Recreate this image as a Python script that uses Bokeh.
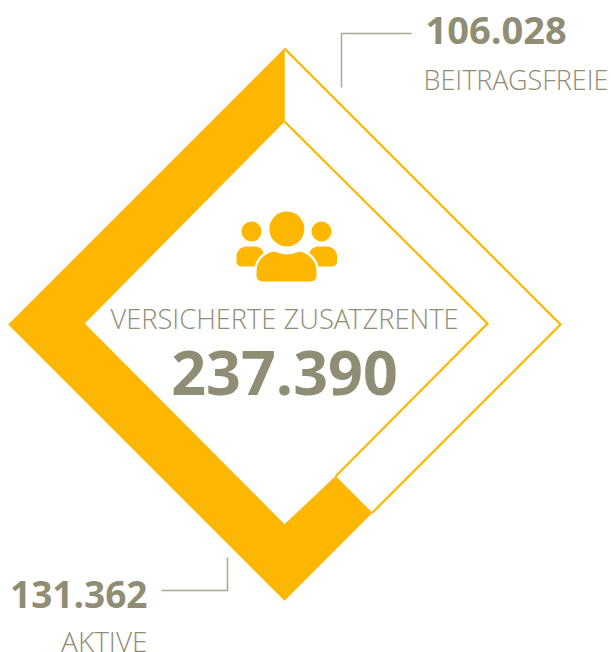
import numpy as np
from bokeh.plotting import figure
from bokeh.models import Range1d
from bokeh.core.properties import value
from bokeh.embed import file_html
from bokeh.resources import INLINE

# data
total_label = "VERSICHERTE ZUSATZRENTE"
total_value = "237.390"
segments = ["AKTIVE", "BEITRAGSFREIE"]
segment_values = [131362, 106028]
segment_texts = ["131.362", "106.028"]

YELLOW = "#FDB700"
TEXT = "#8F8E75"
LIGHT = "#8F8E75"
LEAD = "#A9A895"

W, H = 611, 652
p = figure(width=W, height=H, output_backend="svg", toolbar_location=None,
           x_range=Range1d(0, W), y_range=Range1d(H, 0),
           min_border=0, outline_line_color=None)
p.xaxis.visible = False
p.yaxis.visible = False
p.grid.visible = False

# diamond ring: centre x, centre y, radius up, left, down, right
OUTER = (284.0, 324.0, 276.0, 276.0, 276.0, 276.0)
INNER = (284.0, 323.0, 202.0, 200.0, 201.0, 203.0)
CAL = 1.0345   # the source gauge runs slightly ahead of the plain share

def vertices(d):
    cx, cy, up, left, down, right = d
    return (np.array([cx, cy - up]), np.array([cx - left, cy]),
            np.array([cx, cy + down]), np.array([cx + right, cy]))

o_top, o_left, o_bot, o_right = vertices(OUTER)
i_top, i_left, i_bot, i_right = vertices(INNER)

share = segment_values[0] / sum(segment_values)
pos = share * 4 * CAL
t = pos - int(pos)
OR, IR = OUTER[2], INNER[5]
mid_r = (OR + IR) / 2
mid = np.array([OUTER[0], OUTER[1] + mid_r]) + t * mid_r * np.array([1.0, -1.0])
shift = np.array([1.0, 1.0]) * (OR - IR) / 4
cut_o = mid + shift
cut_i = mid - shift

poly = [o_top, o_left, o_bot, cut_o, cut_i, i_bot, i_left, i_top]
p.patch([q[0] for q in poly], [q[1] for q in poly], fill_color=YELLOW, line_color=YELLOW, line_width=0.5)

for a, b, c in [(o_top, o_right, cut_o), (i_top, i_right, cut_i)]:
    p.line([a[0], b[0], c[0]], [a[1], b[1], c[1]], line_color=YELLOW, line_width=2.2, line_join="miter")

# leaders
p.line([411, 341, 341], [33, 33, 87], line_color=LEAD, line_width=1.5, line_join="miter")
p.line([161, 227, 227], [590, 590, 557], line_color=LEAD, line_width=1.5, line_join="miter")

# icon
def rrect(x0, y0, x1, y1, rt, rb, n=12):
    pts = []
    for cx, cy, r, a0 in [(x1 - rt, y0 + rt, rt, -90), (x1 - rb, y1 - rb, rb, 0),
                          (x0 + rb, y1 - rb, rb, 90), (x0 + rt, y0 + rt, rt, 180)]:
        for a in np.radians(np.linspace(a0, a0 + 90, n)):
            pts.append((cx + r * np.cos(a), cy + r * np.sin(a)))
    return [q[0] for q in pts], [q[1] for q in pts]

for bx0, bx1 in [(236, 264), (308, 336.5)]:
    xs, ys = rrect(bx0, 246, bx1, 266, 10, 5)
    p.patch(xs, ys, fill_color=YELLOW, line_color=None)
xs, ys = rrect(256, 251, 316, 281, 20, 6)
p.patch(xs, ys, fill_color=YELLOW, line_color="white", line_width=5)
p.patch(xs, ys, fill_color=YELLOW, line_color=None)
p.ellipse([286.3], [228.5], width=51, height=51, fill_color="white", line_color=None)
p.ellipse([286.3], [228.5], width=35, height=35, fill_color=YELLOW, line_color=None)
p.ellipse([251, 321], [231, 231], width=20, height=20, fill_color=YELLOW, line_color=None)

# texts
def txt(x, y, s, size, color, bold=False, align="left", font="Open Sans"):
    p.text([x], [y - 0.39 * size], text=[s], text_font=value(font), text_font_size=f"{size}px",
           text_color=color, text_align=align, text_baseline="alphabetic",
           text_font_style="bold" if bold else "normal")

LF = "Open Sans Light"
txt(425, 45, segment_texts[1], 38, TEXT, True)
txt(423, 90, segments[1], 27, LIGHT, font=LF)
txt(284, 329, total_label, 27.3, LIGHT, align="center", font=LF)
txt(284, 396, total_value, 61, TEXT, True, align="center")
txt(147, 608, segment_texts[0], 37, TEXT, True, align="right")
txt(147, 651, segments[0], 28, LIGHT, align="right", font=LF)

open("out.html", "w").write(file_html(p, INLINE))
